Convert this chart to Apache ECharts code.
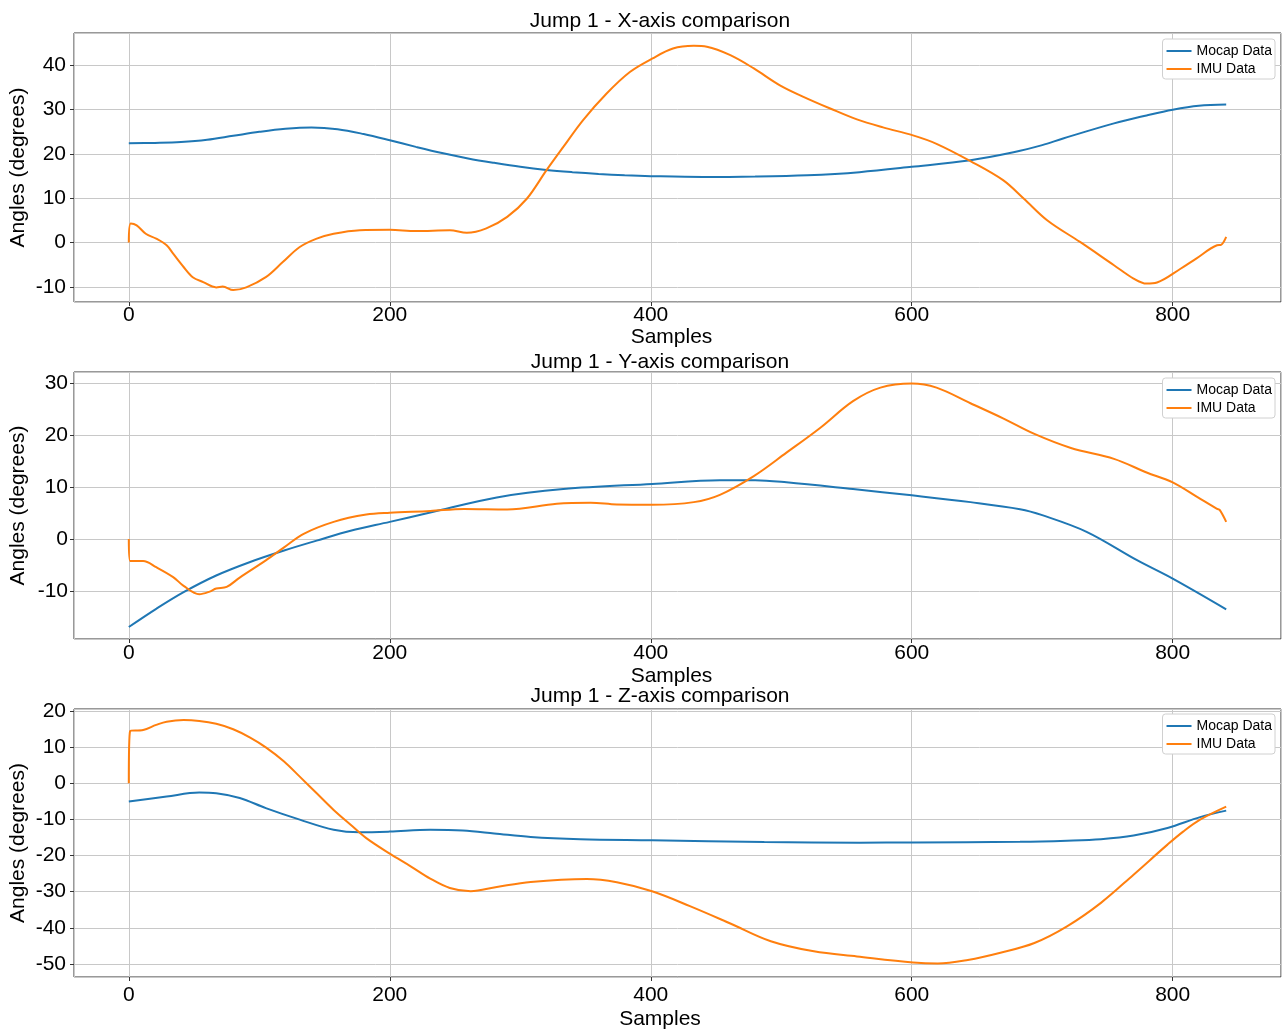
<!DOCTYPE html>
<html>
<head>
<meta charset="utf-8">
<script src="https://cdn.jsdelivr.net/npm/echarts@6/dist/echarts.min.js"></script>
<style>html,body{margin:0;padding:0;background:#fff}#c{width:1283px;height:1032px}</style>
</head>
<body>
<div id="c"></div>
<script>
// ---- data: [sample, angle(deg)] ----
const mocapX = [[0,22.4],[20,22.5],[40,22.7],[60,23.2],[80,24.1],[100,25.0],[120,25.7],[140,26.0],[160,25.6],[180,24.5],[200,23.1],[220,21.6],[240,20.2],[260,19.0],[280,18.0],[300,17.1],[320,16.4],[340,15.9],[360,15.5],[380,15.2],[400,15.0],[440,14.8],[480,14.9],[520,15.2],[560,15.9],[600,17.1],[645,18.6],[678,20.4],[700,22.0],[716,23.5],[755,26.9],[780,28.7],[800,30.0],[820,30.9],[841,31.15]];
const imuX = [[0,0],[1.5,4.3],[6,3.9],[13,2.0],[21,0.9],[29,-0.6],[34,-2.5],[42,-5.5],[49,-7.8],[57,-8.9],[67,-10.1],[72,-9.9],[80,-10.7],[90,-10.1],[105,-7.8],[118,-4.4],[131,-1.0],[144,0.9],[157,2.0],[177,2.8],[200,2.9],[220,2.6],[246,2.8],[259,2.2],[274,3.2],[290,5.8],[305,9.9],[320,16.3],[333,21.6],[348,27.6],[366,33.6],[384,38.5],[401,41.5],[417,43.8],[433,44.4],[443,44.2],[461,42.3],[479,39.3],[499,35.5],[517,32.9],[538,30.2],[558,27.8],[578,26.0],[601,24.2],[619,22.3],[645,18.4],[670,14.1],[686,9.9],[704,5.0],[729,0.15],[755,-5.1],[770,-8.1],[780,-9.25],[788,-9.0],[806,-5.9],[818,-3.6],[834,-0.6],[837,-0.5],[841,1.3]];
const mocapY = [[0,-16.9],[21,-13.4],[42,-10.2],[67,-7.0],[93,-4.4],[119,-2.2],[144,-0.3],[170,1.6],[200,3.3],[231,5.1],[282,8.0],[333,9.6],[401,10.6],[453,11.3],[480,11.3],[504,10.9],[555,9.6],[600,8.4],[645,7.1],[683,5.75],[700,4.6],[734,1.4],[773,-4.1],[800,-7.6],[841,-13.5]];
const imuY = [[0,0],[1,-4.2],[11,-4.2],[21,-5.4],[34,-7.3],[42,-9.0],[54,-10.6],[62,-10.1],[67,-9.5],[75,-9.2],[85,-7.4],[105,-4.1],[119,-1.6],[134,1.0],[157,3.3],[182,4.7],[200,5.05],[231,5.4],[257,5.8],[290,5.7],[328,6.8],[354,7.0],[374,6.65],[401,6.6],[433,7.1],[453,8.5],[479,12.1],[504,16.6],[530,21.4],[555,26.5],[576,29.1],[600,29.9],[619,29.1],[645,26.1],[670,23.2],[694,20.2],[722,17.5],[755,15.4],[780,12.8],[800,10.9],[819,8.05],[834,5.8],[836,5.6],[841,3.3]];
const mocapZ = [[0,-5.1],[29,-3.7],[54,-2.6],[67,-2.8],[85,-4.1],[105,-6.9],[131,-10.1],[157,-12.9],[177,-13.6],[200,-13.4],[231,-12.9],[256,-13.1],[280,-13.9],[308,-14.9],[346,-15.5],[401,-15.8],[487,-16.3],[560,-16.45],[601,-16.4],[683,-16.2],[719,-15.9],[745,-15.5],[770,-14.5],[796,-12.4],[821,-9.4],[841,-7.6]];
const imuZ = [[0,0],[1,14.4],[11,14.7],[21,16.1],[29,17.0],[42,17.45],[54,17.2],[67,16.4],[80,14.9],[93,12.6],[105,9.9],[119,6.0],[131,1.8],[144,-2.8],[157,-7.4],[170,-11.5],[182,-15.2],[200,-19.5],[216,-23.0],[231,-26.4],[246,-29.0],[262,-29.9],[282,-28.7],[308,-27.3],[351,-26.5],[374,-27.4],[401,-29.9],[430,-34.0],[461,-38.8],[492,-43.7],[525,-46.5],[558,-47.9],[601,-49.6],[620,-49.9],[643,-48.9],[668,-46.9],[694,-44.2],[719,-39.6],[745,-33.1],[770,-25.3],[796,-17.0],[808,-13.4],[821,-10.1],[841,-6.5]];
const titles = ['Jump 1 - X-axis comparison','Jump 1 - Y-axis comparison','Jump 1 - Z-axis comparison'];
const seriesNames = ['Mocap Data','IMU Data'];
const xRange = [-42, 883];
const yRanges = [[-13.4, 47.3], [-19.2, 32.1], [-53.6, 20.5]];

const FONT = "'Liberation Sans', Arial, Helvetica, sans-serif";
const BLUE = '#1f77b4', ORANGE = '#ff7f0e';
const gridPos = [{top:33,height:269},{top:372,height:267},{top:709,height:268}];
const titleTop = [11, 352, 686];
const xLabelMargin = [3, 4, 8];
const xNameGap = [25, 27, 32];
const xNamePad = [[0,12,0,0],[0,12,0,0],[0,35,0,0]];
const legendTop = [39, 378, 714];
const pairs = [[mocapX, imuX], [mocapY, imuY], [mocapZ, imuZ]];

const option = {
  animation: false,
  backgroundColor: '#fff',
  textStyle: {fontFamily: FONT},
  title: titles.map((t, i) => ({
    text: t, left: 660, textAlign: 'center', top: titleTop[i], padding: 0,
    textStyle: {fontSize: 21, fontWeight: 'normal', color: '#000', fontFamily: FONT}
  })),
  legend: legendTop.map(t => ({
    data: seriesNames, orient: 'vertical', right: 8, top: t, align: 'left',
    icon: 'rect', padding: [5, 3, 3, 4], itemWidth: 25, itemHeight: 2, itemGap: 4,
    backgroundColor: '#fff', borderColor: '#d0d0d0', borderWidth: 1, borderRadius: 3,
    textStyle: {fontSize: 14, color: '#000', fontFamily: FONT}, selectedMode: false
  })),
  grid: gridPos.map(g => ({left: 74, right: 2, top: g.top, height: g.height, show: true,
    borderColor: '#333', borderWidth: 1, backgroundColor: '#fff', containLabel: false, outerBoundsMode: 'none'})),
  xAxis: [0,1,2].map(i => ({
    type: 'value', gridIndex: i, min: xRange[0], max: xRange[1], splitNumber: 5, position: 'bottom',
    name: 'Samples', nameLocation: 'middle', nameGap: xNameGap[i], nameMoveOverlap: false,
    nameTextStyle: {fontSize: 21, color: '#000', fontFamily: FONT, padding: xNamePad[i]},
    axisLine: {show: false, onZero: false},
    axisTick: {show: true, length: 4, lineStyle: {color: '#333'}},
    axisLabel: {fontSize: 21, color: '#000', margin: xLabelMargin[i], showMinLabel: false, showMaxLabel: false, fontFamily: FONT},
    splitLine: {show: true, lineStyle: {color: '#c8c8c8', width: 1}}
  })),
  yAxis: [0,1,2].map(i => ({
    type: 'value', gridIndex: i, min: yRanges[i][0], max: yRanges[i][1], splitNumber: 5, position: 'left',
    name: 'Angles (degrees)', nameLocation: 'middle', nameGap: 45, nameMoveOverlap: false,
    nameTextStyle: {fontSize: 21, color: '#000', fontFamily: FONT},
    axisLine: {show: false, onZero: false},
    axisTick: {show: true, length: 4, lineStyle: {color: '#333'}},
    axisLabel: {fontSize: 21, color: '#000', margin: i === 1 ? 6 : 8, showMinLabel: false, showMaxLabel: false, fontFamily: FONT},
    splitLine: {show: true, lineStyle: {color: '#c8c8c8', width: 1}}
  })),
  series: []
};
pairs.forEach((p, i) => {
  p.forEach((d, j) => {
    option.series.push({
      name: seriesNames[j], type: 'line', xAxisIndex: i, yAxisIndex: i, data: d,
      symbol: 'none', smooth: 0.35,
      lineStyle: {width: 2, color: j === 0 ? BLUE : ORANGE},
      itemStyle: {color: j === 0 ? BLUE : ORANGE}, z: 3 + j
    });
  });
});
const chart = echarts.init(document.getElementById('c'), null, {renderer: 'canvas'});
chart.setOption(option);
</script>
</body>
</html>
